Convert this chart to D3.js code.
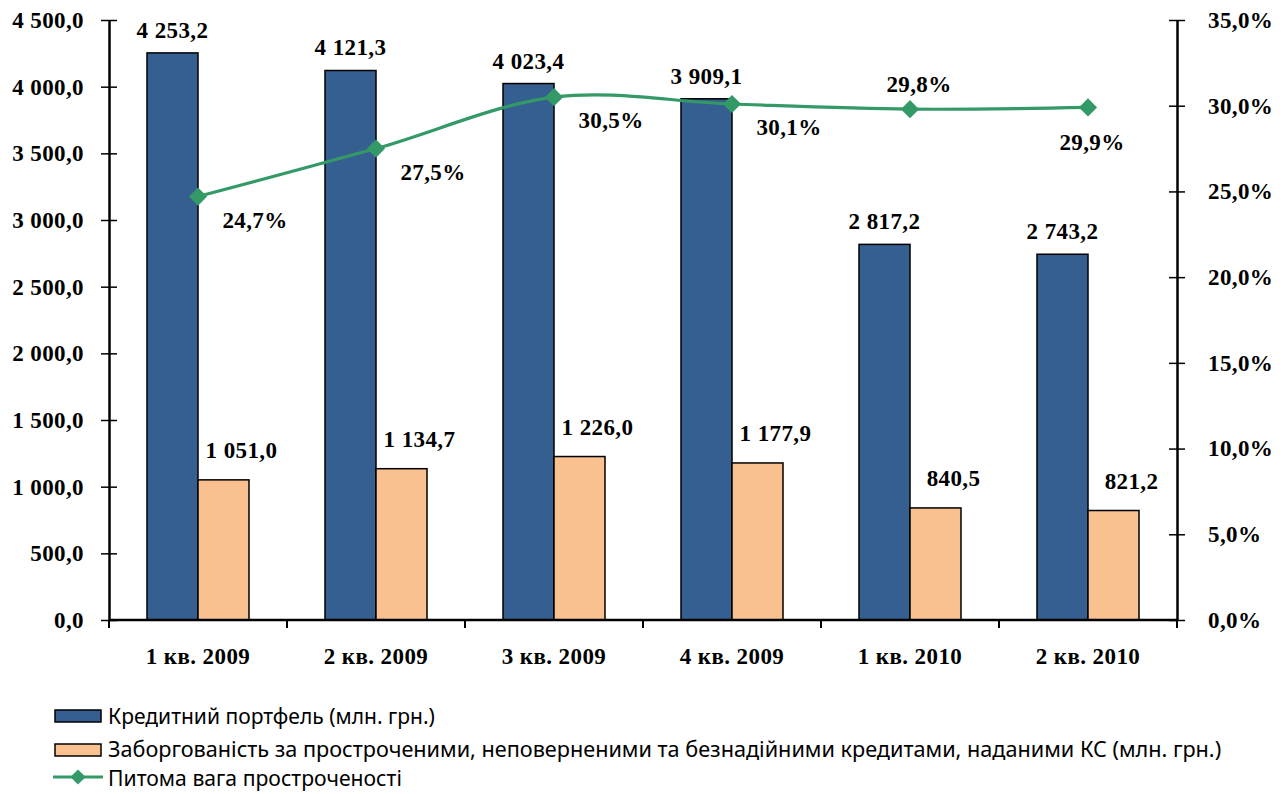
<!DOCTYPE html>
<html><head><meta charset="utf-8">
<script src="https://cdn.jsdelivr.net/npm/d3@7"></script>
<style>
body{margin:0;background:#fff;}
svg{display:block;}
.num{font-family:"Liberation Serif","Times New Roman",serif;font-weight:bold;font-size:23px;letter-spacing:0.4px;fill:#000;}
.leg{font-family:"Noto Sans","Open Sans",sans-serif;font-size:21px;fill:#000;}
</style></head>
<body>
<svg id="chart" width="1285" height="794"></svg>
<script>
const categories = ["1 кв. 2009","2 кв. 2009","3 кв. 2009","4 кв. 2009","1 кв. 2010","2 кв. 2010"];
const portfolio = [4253.2, 4121.3, 4023.4, 3909.1, 2817.2, 2743.2];
const overdue = [1051.0, 1134.7, 1226.0, 1177.9, 840.5, 821.2];
const share = [24.7, 27.5, 30.5, 30.1, 29.8, 29.9];
const leftTicks = [0,500,1000,1500,2000,2500,3000,3500,4000,4500];
const rightTicks = [0,5,10,15,20,25,30,35];
const seriesNames = ["Кредитний портфель (млн. грн.)",
  "Заборгованість за простроченими, неповерненими та безнадійними кредитами, наданими КС (млн. грн.)",
  "Питома вага простроченості"];
const shareLabelSide = ["right","right","right","right","above","below"];

const colors = {blue:"#365F91", orange:"#F9C090", green:"#339966"};
const svg = d3.select("#chart");
const mLeft = 109, mRight = 1177, mTop = 20, mBottom = 620;

const x = d3.scaleBand().domain(categories).range([mLeft, mRight]).padding(0);
const yL = d3.scaleLinear().domain([0,4500]).range([mBottom, mTop]);
const yR = d3.scaleLinear().domain([0,35]).range([mBottom, mTop]);
const barW = 51;
const cx = c => x(c) + x.bandwidth()/2;

const fmtNum = v => d3.format(",.1f")(v).replace(/,/g," ").replace(".",",");
const fmtPct = v => d3.format(".1f")(v).replace(".",",") + "%";

// bars
const g = svg.append("g");
g.selectAll("rect.p").data(portfolio).join("rect").attr("class","p")
  .attr("x",(d,i)=>cx(categories[i])-barW).attr("y",d=>yL(d))
  .attr("width",barW).attr("height",d=>mBottom-yL(d))
  .attr("fill",colors.blue).attr("stroke","#000").attr("stroke-width",1.5);
g.selectAll("rect.o").data(overdue).join("rect").attr("class","o")
  .attr("x",(d,i)=>cx(categories[i])).attr("y",d=>yL(d))
  .attr("width",barW).attr("height",d=>mBottom-yL(d))
  .attr("fill",colors.orange).attr("stroke","#000").attr("stroke-width",1.5);

// axes
const axL = d3.axisLeft(yL).tickValues(leftTicks).tickSizeInner(8).tickSizeOuter(0).tickPadding(17).tickFormat(fmtNum);
const gL = svg.append("g").attr("transform",`translate(${mLeft},0)`).call(axL);
gL.selectAll(".tick line").attr("x2",8).attr("x1",-8);
const axR = d3.axisRight(yR).tickValues(rightTicks).tickSizeInner(8).tickSizeOuter(0).tickPadding(23).tickFormat(fmtPct);
const gR = svg.append("g").attr("transform",`translate(${mRight},0)`).call(axR);
gR.selectAll(".tick line").attr("x1",-8).attr("x2",8);
const axB = d3.axisBottom(x).tickSize(0).tickPadding(28);
const gB = svg.append("g").attr("transform",`translate(0,${mBottom})`).call(axB);
const bounds = categories.map(c=>x(c)).concat([mRight]);
gB.selectAll("line.bt").data(bounds).join("line").attr("class","bt")
  .attr("x1",d=>d).attr("x2",d=>d).attr("y1",0).attr("y2",8).attr("stroke","#000").attr("stroke-width",2);
[gL,gR,gB].forEach(a=>{
  a.select(".domain").attr("stroke","#000").attr("stroke-width",2.5);
  a.selectAll(".tick line").attr("stroke","#000").attr("stroke-width",1.5);
  a.selectAll("text").attr("class","num").attr("font-size",null).attr("font-family",null);
});
gB.select(".domain").attr("d",`M${mLeft},0H${mRight}`);

// bar labels
svg.selectAll("text.pl").data(portfolio).join("text").attr("class","num pl")
  .attr("x",(d,i)=>cx(categories[i])-barW/2).attr("y",d=>yL(d)-15)
  .attr("text-anchor","middle").text(fmtNum);
svg.selectAll("text.ol").data(overdue).join("text").attr("class","num ol")
  .attr("x",(d,i)=>cx(categories[i])+barW/2+18).attr("y",d=>yL(d)-22)
  .attr("text-anchor","middle").text(fmtNum);

// line
const line = d3.line().x((d,i)=>cx(categories[i])).y(d=>yR(d)).curve(d3.curveCardinal.tension(0));
svg.append("path").datum(share).attr("d",line).attr("fill","none")
  .attr("stroke",colors.green).attr("stroke-width",3.2);
const marker = d3.symbol().type(d3.symbolSquare).size(165);
svg.selectAll("path.mk").data(share).join("path").attr("class","mk")
  .attr("transform",(d,i)=>`translate(${cx(categories[i])},${yR(d)}) rotate(45)`)
  .attr("d",marker).attr("fill",colors.green);
const labOff = {right:[57,31], above:[9,-17], below:[4,43]};
svg.selectAll("text.sl").data(share).join("text").attr("class","num sl")
  .attr("x",(d,i)=>cx(categories[i]) + labOff[shareLabelSide[i]][0])
  .attr("y",(d,i)=>yR(d) + labOff[shareLabelSide[i]][1])
  .attr("text-anchor","middle").text(fmtPct);

// legend
const leg = svg.append("g");
const rowsY = [716, 750, 777];
const textY = [724, 757, 786];
leg.append("rect").attr("x",55).attr("y",rowsY[0]-6).attr("width",46).attr("height",12)
  .attr("fill",colors.blue).attr("stroke","#000").attr("stroke-width",1.5);
leg.append("rect").attr("x",55).attr("y",rowsY[1]-6).attr("width",46).attr("height",12)
  .attr("fill",colors.orange).attr("stroke","#000").attr("stroke-width",1.5);
leg.append("line").attr("x1",53).attr("x2",103).attr("y1",rowsY[2]).attr("y2",rowsY[2])
  .attr("stroke",colors.green).attr("stroke-width",3.2);
leg.append("path").attr("transform",`translate(78,${rowsY[2]}) rotate(45)`)
  .attr("d",d3.symbol().type(d3.symbolSquare).size(115)).attr("fill",colors.green);
const legW = [327, 1114, 294];
leg.selectAll("text").data(seriesNames).join("text").attr("class","leg")
  .attr("x",0).attr("y",0)
  .text(d=>d)
  .each(function(d,i){
    const w = this.getComputedTextLength();
    d3.select(this).attr("transform",`translate(108,${textY[i]}) scale(${legW[i]/w},1)`);
  });
</script>
</body></html>
